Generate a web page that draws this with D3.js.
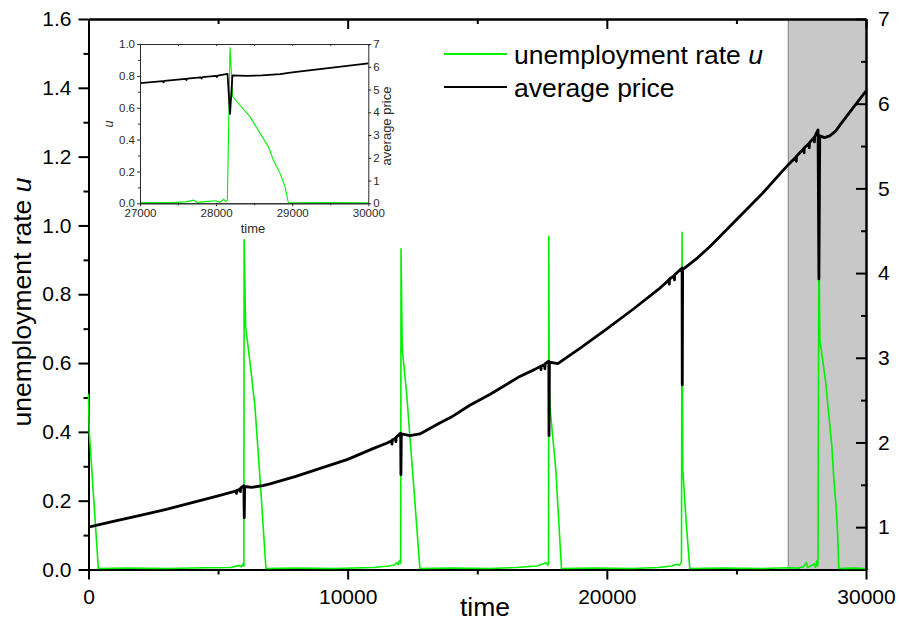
<!DOCTYPE html>
<html>
<head>
<meta charset="utf-8">
<script src="https://cdn.jsdelivr.net/npm/d3@7"></script>
<style>
  html, body { margin: 0; padding: 0; background: #fff; }
  svg { display: block; font-family: "Liberation Sans", Arial, sans-serif; }
</style>
</head>
<body>
<svg id="chart" width="899" height="624"></svg>
<script>
// Unemployment rate u over time
const unemploymentTime = [0, 30, 380, 1500, 3000, 4500, 5500, 5800, 5900, 5960, 5995,
  6005, 6063, 6250, 6422, 6640, 6846, 8000, 9500, 11000, 11600, 11800, 11900, 11950, 12000, 12045,
  12060, 12104, 12273, 12530, 12786, 14000, 15500, 16500, 17300, 17500, 17650, 17720, 17750,
  17762, 17775, 17810, 18031, 18250, 19500, 21000, 22000, 22500, 22700, 22800, 22880,
  22903, 22918, 22932, 23060, 23200, 24500, 26000, 27000, 27400, 27600, 27700, 27750, 27900,
  28000, 28050, 28100, 28130, 28148, 28183, 28218, 28292, 28445, 28577, 28686, 28752, 28840,
  28905, 28950, 29500, 30000];
const unemploymentRate = [0.51, 0.40, 0.003, 0.004, 0.003, 0.005, 0.006, 0.012, 0.008, 0.016, 0.010,
  0.958, 0.706, 0.59, 0.474, 0.24, 0.003, 0.004, 0.003, 0.006, 0.010, 0.013, 0.020, 0.014, 0.026, 0.018,
  0.932, 0.643, 0.513, 0.26, 0.003, 0.004, 0.003, 0.006, 0.010, 0.015, 0.020, 0.012, 0.018,
  0.968, 0.55, 0.47, 0.29, 0.003, 0.004, 0.003, 0.006, 0.010, 0.015, 0.012, 0.022,
  0.980, 0.55, 0.29, 0.14, 0.003, 0.004, 0.003, 0.005, 0.004, 0.009, 0.020, 0.006, 0.012,
  0.016, 0.006, 0.025, 0.010, 0.020, 0.979, 0.670, 0.628, 0.544, 0.440, 0.356, 0.272, 0.188,
  0.105, 0.003, 0.004, 0.003];

// Average price over time (short downward flickers included)
const priceTime = [0, 1000, 2000, 3000, 4000, 5000, 5600, 5700, 5710, 5720, 5850, 5860, 5870, 5995,
  6010, 6025, 6300, 6730, 7000, 8000, 9000, 10000, 11000, 11500, 11700, 11710, 11720, 11850, 11860, 11870, 12045,
  12055, 12070, 12400, 12786, 13500, 14000, 14714, 15500, 16643, 17200, 17450, 17460, 17470, 17600, 17610, 17620, 17762,
  17770, 17785, 18109, 19000, 20000, 21000, 22000, 22400, 22410, 22420, 22600, 22610, 22620, 22903,
  22910, 22925, 23500, 24000, 25000, 26000, 27000, 27300, 27310, 27320, 27600, 27610, 27620, 27800, 27810, 27820,
  28000, 28010, 28020, 28150, 28183, 28215, 28400, 28600, 28840, 29000, 29500, 30000];
const averagePrice = [1.00, 1.07, 1.14, 1.21, 1.29, 1.37, 1.42, 1.43, 1.40, 1.43, 1.45, 1.42, 1.46, 1.49,
  1.11, 1.48, 1.47, 1.49, 1.51, 1.60, 1.70, 1.80, 1.93, 1.99, 2.02, 1.98, 2.03, 2.05, 2.01, 2.06, 2.11,
  1.62, 2.10, 2.08, 2.10, 2.22, 2.30, 2.44, 2.57, 2.78, 2.86, 2.90, 2.86, 2.90, 2.92, 2.87, 2.93, 2.96,
  2.08, 2.95, 2.93, 3.12, 3.34, 3.57, 3.81, 3.92, 3.87, 3.93, 3.97, 3.92, 3.98, 4.06,
  2.68, 4.04, 4.18, 4.32, 4.63, 4.94, 5.28, 5.37, 5.32, 5.38, 5.47, 5.42, 5.48, 5.53, 5.48, 5.54,
  5.60, 5.55, 5.61, 5.69, 3.93, 5.62, 5.60, 5.62, 5.68, 5.75, 5.95, 6.15];

// Axis ticks
const timeTicks = [0, 10000, 20000, 30000];
const timeMinorTicks = [5000, 15000, 25000];
const rateTicks = [0, 0.2, 0.4, 0.6, 0.8, 1.0, 1.2, 1.4, 1.6];
const rateMinorTicks = [0.1, 0.3, 0.5, 0.7, 0.9, 1.1, 1.3, 1.5];
const priceTicks = [1, 2, 3, 4, 5, 6, 7];
const priceMinorTicks = [1.5, 2.5, 3.5, 4.5, 5.5, 6.5];
const shadedWindow = [27000, 30000];

// Inset ticks
const insetTimeTicks = [27000, 28000, 29000, 30000];
const insetTimeMinorTicks = [27500, 28500, 29500];
const insetRateTicks = [0, 0.2, 0.4, 0.6, 0.8, 1.0];
const insetRateMinorTicks = [0.1, 0.3, 0.5, 0.7, 0.9];
const insetPriceTicks = [0, 1, 2, 3, 4, 5, 6, 7];

const GREEN = "#00f000";
const svg = d3.select("#chart");

// ---------- main panel ----------
const x = d3.scaleLinear([0, 30000], [88.5, 866]);
const yL = d3.scaleLinear([0, 1.6], [569.5, 19]);
const yR = d3.scaleLinear([0.5, 7], [569.5, 19]);

// shaded time window
svg.append("rect")
  .attr("x", x(shadedWindow[0])).attr("y", yL(1.6))
  .attr("width", x(shadedWindow[1]) - x(shadedWindow[0]))
  .attr("height", yL(0) - yL(1.6))
  .attr("fill", "#c8c8c8");
svg.append("line")
  .attr("x1", x(shadedWindow[0])).attr("x2", x(shadedWindow[0]))
  .attr("y1", yL(1.6)).attr("y2", yL(0))
  .attr("stroke", "#7a7a7a").attr("stroke-width", 1);

function styleAxis(g, width, fontSize) {
  g.selectAll(".domain").attr("stroke", "#000").attr("stroke-width", width);
  g.selectAll(".tick line").attr("stroke", "#000").attr("stroke-width", width);
  g.selectAll("text").attr("fill", "#000").attr("font-size", fontSize)
    .attr("font-family", '"Liberation Sans", Arial, sans-serif');
}

const fmt1 = d3.format(".1f");

// left axis
svg.append("g").attr("transform", `translate(${x(0)},0)`)
  .call(d3.axisLeft(yL).tickValues(rateMinorTicks).tickSize(5).tickSizeOuter(0).tickFormat(""))
  .call(g => styleAxis(g, 2, 21));
svg.append("g").attr("transform", `translate(${x(0)},0)`)
  .call(d3.axisLeft(yL).tickValues(rateTicks).tickSize(10).tickSizeOuter(0).tickPadding(7).tickFormat(fmt1))
  .call(g => styleAxis(g, 2, 21));

// bottom axis
svg.append("g").attr("transform", `translate(0,${yL(0)})`)
  .call(d3.axisBottom(x).tickValues(timeMinorTicks).tickSize(5).tickSizeOuter(0).tickFormat(""))
  .call(g => styleAxis(g, 2, 21));
svg.append("g").attr("transform", `translate(0,${yL(0)})`)
  .call(d3.axisBottom(x).tickValues(timeTicks).tickSize(10).tickSizeOuter(0).tickPadding(10).tickFormat(d3.format("d")))
  .call(g => styleAxis(g, 2, 21));

// top axis (inward ticks)
svg.append("g").attr("transform", `translate(0,${yL(1.6)})`)
  .call(d3.axisTop(x).tickValues(timeMinorTicks).tickSize(-5).tickSizeOuter(0).tickFormat(""))
  .call(g => styleAxis(g, 2, 21));
svg.append("g").attr("transform", `translate(0,${yL(1.6)})`)
  .call(d3.axisTop(x).tickValues(timeTicks).tickSize(-10).tickSizeOuter(0).tickFormat(""))
  .call(g => styleAxis(g, 2, 21));

// data lines
const uPoints = d3.zip(unemploymentTime, unemploymentRate);
const pPoints = d3.zip(priceTime, averagePrice);

svg.append("path").datum(uPoints)
  .attr("fill", "none").attr("stroke", GREEN).attr("stroke-width", 1.6)
  .attr("stroke-linejoin", "round")
  .attr("d", d3.line().x(d => x(d[0])).y(d => yL(d[1])));
svg.append("path").datum(pPoints)
  .attr("fill", "none").attr("stroke", "#000").attr("stroke-width", 2.8)
  .attr("stroke-linejoin", "round")
  .attr("d", d3.line().x(d => x(d[0])).y(d => yR(d[1])));

// right axis (inward ticks)
svg.append("g").attr("transform", `translate(${x(30000)},0)`)
  .call(d3.axisRight(yR).tickValues(priceMinorTicks).tickSize(-5).tickSizeOuter(0).tickFormat(""))
  .call(g => styleAxis(g, 2, 21));
svg.append("g").attr("transform", `translate(${x(30000)},0)`)
  .call(d3.axisRight(yR).tickValues(priceTicks).tickSize(-10).tickSizeOuter(0).tickPadding(12).tickFormat(d3.format("d")))
  .call(g => styleAxis(g, 2, 21));

// axis titles
svg.append("text")
  .attr("x", 485).attr("y", 616).attr("text-anchor", "middle")
  .attr("font-size", 26.5).attr("fill", "#000").text("time");
const yTitle = svg.append("text")
  .attr("transform", "translate(31,302) rotate(-90)")
  .attr("text-anchor", "middle").attr("font-size", 26.5).attr("fill", "#000");
yTitle.append("tspan").text("unemployment rate ");
yTitle.append("tspan").attr("font-style", "italic").text("u");

// legend
const legend = svg.append("g");
legend.append("line").attr("x1", 444).attr("x2", 507).attr("y1", 54).attr("y2", 54)
  .attr("stroke", GREEN).attr("stroke-width", 2);
const l1 = legend.append("text").attr("x", 514).attr("y", 63.5).attr("font-size", 26.5).attr("fill", "#000");
l1.append("tspan").text("unemployment rate ");
l1.append("tspan").attr("font-style", "italic").text("u");
legend.append("line").attr("x1", 444).attr("x2", 507).attr("y1", 87).attr("y2", 87)
  .attr("stroke", "#000").attr("stroke-width", 2);
legend.append("text").attr("x", 514).attr("y", 96.5).attr("font-size", 26.5).attr("fill", "#000")
  .text("average price");

// ---------- inset: window 27000-30000 ----------
const ix = d3.scaleLinear([27000, 30000], [140, 368.3]);
const iyL = d3.scaleLinear([0, 1], [203.3, 44]);
const iyR = d3.scaleLinear([0, 7], [203.3, 44]);
const inset = svg.append("g");
const INK = "#2a2a2a";

inset.append("rect")
  .attr("x", ix(27000)).attr("y", iyL(1))
  .attr("width", ix(30000) - ix(27000)).attr("height", iyL(0) - iyL(1))
  .attr("fill", "#fff");

const inWindow = d => d[0] >= 27000;
inset.append("path").datum(uPoints.filter(inWindow))
  .attr("fill", "none").attr("stroke", GREEN).attr("stroke-width", 1.1)
  .attr("d", d3.line().x(d => ix(d[0])).y(d => iyL(d[1])));
inset.append("path").datum(pPoints.filter(inWindow))
  .attr("fill", "none").attr("stroke", "#000").attr("stroke-width", 1.8)
  .attr("stroke-linejoin", "round")
  .attr("d", d3.line().x(d => ix(d[0])).y(d => iyR(d[1])));

function styleInset(g) {
  g.selectAll(".domain").attr("stroke", INK).attr("stroke-width", 1);
  g.selectAll(".tick line").attr("stroke", INK).attr("stroke-width", 1);
  g.selectAll("text").attr("fill", INK).attr("font-size", 11.5)
    .attr("font-family", '"Liberation Sans", Arial, sans-serif');
}

inset.append("g").attr("transform", `translate(${ix(27000)},0)`)
  .call(d3.axisLeft(iyL).tickValues(insetRateMinorTicks).tickSize(2).tickSizeOuter(0).tickFormat(""))
  .call(styleInset);
inset.append("g").attr("transform", `translate(${ix(27000)},0)`)
  .call(d3.axisLeft(iyL).tickValues(insetRateTicks).tickSize(3).tickSizeOuter(0).tickPadding(2).tickFormat(fmt1))
  .call(styleInset);
inset.append("g").attr("transform", `translate(0,${iyL(0)})`)
  .call(d3.axisBottom(ix).tickValues(insetTimeMinorTicks).tickSize(2).tickSizeOuter(0).tickFormat(""))
  .call(styleInset);
inset.append("g").attr("transform", `translate(0,${iyL(0)})`)
  .call(d3.axisBottom(ix).tickValues(insetTimeTicks).tickSize(3).tickSizeOuter(0).tickPadding(3).tickFormat(d3.format("d")))
  .call(styleInset);
inset.append("g").attr("transform", `translate(0,${iyL(1)})`)
  .call(d3.axisTop(ix).tickValues(insetTimeTicks.concat(insetTimeMinorTicks)).tickSize(-2).tickSizeOuter(0).tickFormat(""))
  .call(styleInset);
inset.append("g").attr("transform", `translate(${ix(30000)},0)`)
  .call(d3.axisRight(iyR).tickValues(insetPriceTicks).tickSize(3).tickSizeOuter(0).tickPadding(2).tickFormat(d3.format("d")))
  .call(styleInset);

inset.append("text").attr("x", 253).attr("y", 233).attr("text-anchor", "middle")
  .attr("font-size", 13).attr("fill", INK).text("time");
inset.append("text").attr("transform", "translate(113,124) rotate(-90)")
  .attr("text-anchor", "middle").attr("font-size", 12.5).attr("font-style", "italic")
  .attr("fill", INK).text("u");
inset.append("text").attr("transform", "translate(391,126) rotate(-90)")
  .attr("text-anchor", "middle").attr("font-size", 13).attr("fill", INK).text("average price");
</script>
</body>
</html>
